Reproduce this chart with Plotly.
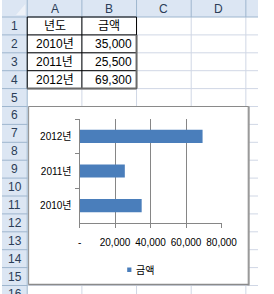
import plotly.graph_objects as go

# ---------------- data ----------------
years = ["2010년", "2011년", "2012년"]
amounts = [35000, 25500, 69300]
header_year = "년도"
header_amount = "금액"
col_letters = ["A", "B", "C", "D"]
row_numbers = list(range(1, 17))
x_tick_vals = [0, 20000, 40000, 60000, 80000]
x_tick_text = ["-", "20,000", "40,000", "60,000", "80,000"]
series_name = "금액"

# ---------------- geometry (pixels) ----------------
W, H = 274, 294
HEAD_H = 17
ROW_H = 17.9
ROWHEAD_W = 27
col_bounds = [27, 85.5, 144, 202.5, 261, 320]

def px(x):
    return x / W

def py(y):
    return 1 - y / H

FONT = "Liberation Sans, Noto Sans CJK KR, sans-serif"
HEAD_FILL = "#DCE6F3"
HEAD_LINE = "#9EB6CE"
CELL_LINE = "#D0D7E5"
HEAD_TEXT = "#2B3D57"

shapes = []
annotations = []

def line(x0, y0, x1, y1, color, width=1):
    shapes.append(dict(type="line", xref="paper", yref="paper",
                       x0=px(x0), y0=py(y0), x1=px(x1), y1=py(y1),
                       line=dict(color=color, width=width), layer="below"))

def rect(x0, y0, x1, y1, fill, color=None, width=0):
    shapes.append(dict(type="rect", xref="paper", yref="paper",
                       x0=px(x0), y0=py(y0), x1=px(x1), y1=py(y1),
                       fillcolor=fill, line=dict(color=color or fill, width=width),
                       layer="below"))

def text(x, y, s, size=12, color="black", xanchor="center"):
    annotations.append(dict(xref="paper", yref="paper", x=px(x), y=py(y), text=s,
                            showarrow=False, xanchor=xanchor, yanchor="middle",
                            font=dict(family=FONT, size=size, color=color)))

def row_top(r):
    return HEAD_H + (r - 1) * ROW_H

# header bands
rect(0, 0, W, HEAD_H, HEAD_FILL)
rect(0, HEAD_H, ROWHEAD_W, H, HEAD_FILL)
# corner
shapes.append(dict(type="path", xref="paper", yref="paper",
                   path=f"M {px(25)} {py(4)} L {px(25)} {py(15)} L {px(15)} {py(15)} Z",
                   fillcolor="#EEF2F8", line=dict(width=0), layer="below"))

# cell gridlines
for cb in col_bounds[1:]:
    line(cb, HEAD_H, cb, H, CELL_LINE)
for r in row_numbers:
    yb = row_top(r) + ROW_H
    line(ROWHEAD_W, yb, W, yb, CELL_LINE)

# header separators
for cb in col_bounds[1:]:
    line(cb, 0, cb, HEAD_H, HEAD_LINE)
for r in row_numbers:
    yb = row_top(r) + ROW_H
    line(0, yb, ROWHEAD_W, yb, HEAD_LINE)
line(0, HEAD_H, W, HEAD_H, HEAD_LINE)
line(ROWHEAD_W, 0, ROWHEAD_W, H, HEAD_LINE)

# header text
for i, c in enumerate(col_letters):
    text((col_bounds[i] + col_bounds[i + 1]) / 2, HEAD_H / 2 + 0.5, c, 12, HEAD_TEXT)
for r in row_numbers:
    text(ROWHEAD_W / 2, row_top(r) + ROW_H / 2, str(r), 12, HEAD_TEXT)

# table borders A1:B4
xa, xb, xc = col_bounds[0], col_bounds[1], col_bounds[2]
for r in range(1, 6):
    line(xa, row_top(r), xc, row_top(r), "#000000")
for xv in (xa, xb, xc):
    line(xv, row_top(1), xv, row_top(5), "#000000")
line(xc, row_top(2), xc, row_top(5), "#6A6A6A", 2)
line(xa, row_top(5), xc, row_top(5), "#6A6A6A", 2)

# table text
text((xa + xb) / 2, row_top(1) + ROW_H / 2, header_year)
text((xb + xc) / 2, row_top(1) + ROW_H / 2, header_amount)
for i, (yr, v) in enumerate(zip(years, amounts)):
    yc = row_top(i + 2) + ROW_H / 2
    text((xa + xb) / 2, yc, yr)
    text(xc - 3, yc, f"{v:,}", xanchor="right")

# chart area
CH_L, CH_T, CH_R, CH_B = 28.5, 106.5, 264, 284.5
rect(CH_L, CH_T, CH_R, CH_B, "white", "#8A8A8A", 1)
line(CH_R, CH_T, CH_R, CH_B + 1, "#9A9A9A", 2)
line(CH_L, CH_B, CH_R, CH_B, "#8A8A8A", 1.5)

# legend (drawn)
rect(134, 267.5, 138.5, 272, "#4A7EBB")
text(141, 270, series_name, 10, "black", "left")

# plot area
PL, PR, PT, PB = 83, 235, 119, 223

fig = go.Figure()
fig.add_trace(go.Bar(
    x=amounts, y=years, orientation="h", name=series_name,
    marker=dict(color="#4A7EBB", line=dict(width=0)),
    showlegend=False,
))

fig.update_layout(
    width=W, height=H,
    margin=dict(l=0, r=0, t=0, b=0),
    paper_bgcolor="white",
    plot_bgcolor="rgba(0,0,0,0)",
    bargap=0.62,
    shapes=shapes,
    annotations=annotations,
    font=dict(family=FONT, size=10, color="black"),
    xaxis=dict(
        domain=[px(PL), px(PR)],
        range=[0, 80000],
        tickvals=x_tick_vals, ticktext=x_tick_text,
        showgrid=True, gridcolor="#868686", gridwidth=1,
        zeroline=False,
        showline=True, linecolor="#868686", linewidth=1,
        ticks="outside", ticklen=4, tickcolor="#868686",
        ticklabelstandoff=6,
        tickfont=dict(size=10, color="black"),
        fixedrange=True,
    ),
    yaxis=dict(
        domain=[py(PB), py(PT)],
        type="category",
        categoryorder="array", categoryarray=years,
        range=[-0.5, 2.5],
        showgrid=False, zeroline=False,
        showline=True, linecolor="#868686", linewidth=1,
        ticks="outside", ticklen=4, tickcolor="#868686",
        tickson="boundaries",
        ticklabelstandoff=5,
        tickfont=dict(size=10, color="black"),
        fixedrange=True,
    ),
)

fig.write_html("out.html")
